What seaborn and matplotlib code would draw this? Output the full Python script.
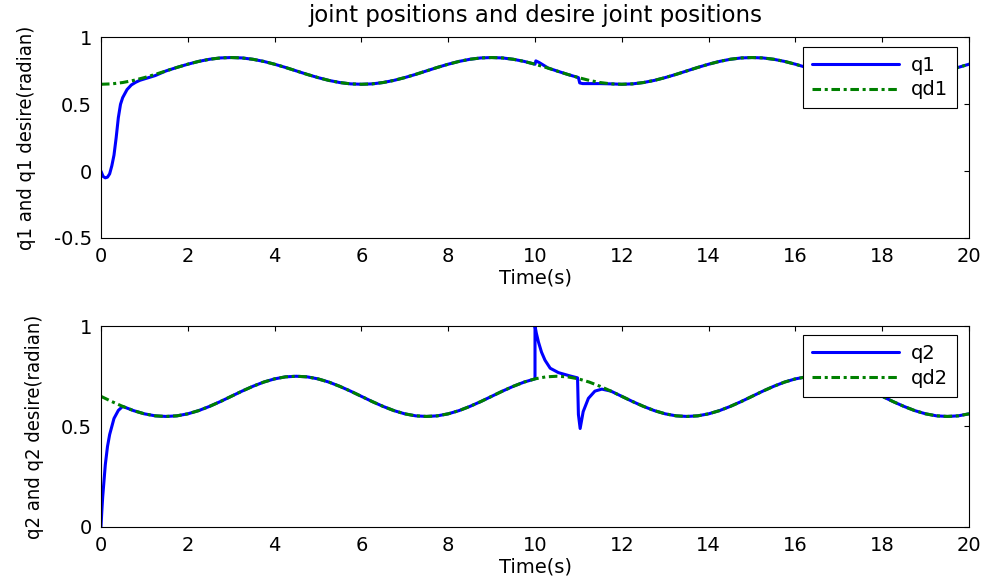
import numpy as np
import pandas as pd
import matplotlib
matplotlib.use("Agg")
import matplotlib.pyplot as plt
from matplotlib import font_manager as fm
import seaborn as sns

# ---------------- data ----------------
t_des = np.arange(0, 20.001, 0.25)

qd1 = [0.650, 0.653, 0.663, 0.679, 0.700, 0.724, 0.750, 0.776, 0.800, 0.821, 0.837, 0.847,
       0.850, 0.847, 0.837, 0.821, 0.800, 0.776, 0.750, 0.724, 0.700, 0.679, 0.663, 0.653,
       0.650, 0.653, 0.663, 0.679, 0.700, 0.724, 0.750, 0.776, 0.800, 0.821, 0.837, 0.847,
       0.850, 0.847, 0.837, 0.821, 0.800, 0.776, 0.750, 0.724, 0.700, 0.679, 0.663, 0.653,
       0.650, 0.653, 0.663, 0.679, 0.700, 0.724, 0.750, 0.776, 0.800, 0.821, 0.837, 0.847,
       0.850, 0.847, 0.837, 0.821, 0.800, 0.776, 0.750, 0.724, 0.700, 0.679, 0.663, 0.653,
       0.650, 0.653, 0.663, 0.679, 0.700, 0.724, 0.750, 0.776, 0.800]

qd2 = [0.650, 0.624, 0.600, 0.579, 0.563, 0.553, 0.550, 0.553, 0.563, 0.579, 0.600, 0.624,
       0.650, 0.676, 0.700, 0.721, 0.737, 0.747, 0.750, 0.747, 0.737, 0.721, 0.700, 0.676,
       0.650, 0.624, 0.600, 0.579, 0.563, 0.553, 0.550, 0.553, 0.563, 0.579, 0.600, 0.624,
       0.650, 0.676, 0.700, 0.721, 0.737, 0.747, 0.750, 0.747, 0.737, 0.721, 0.700, 0.676,
       0.650, 0.624, 0.600, 0.579, 0.563, 0.553, 0.550, 0.553, 0.563, 0.579, 0.600, 0.624,
       0.650, 0.676, 0.700, 0.721, 0.737, 0.747, 0.750, 0.747, 0.737, 0.721, 0.700, 0.676,
       0.650, 0.624, 0.600, 0.579, 0.563, 0.553, 0.550, 0.553, 0.563]

t_q1 = [0.0, 0.05, 0.1, 0.15, 0.2, 0.25, 0.3, 0.35, 0.4, 0.45, 0.5, 0.6, 0.7, 0.8, 0.9, 1.0, 1.25,
        1.5, 1.75, 2.0, 2.25, 2.5, 2.75, 3.0, 3.25, 3.5, 3.75, 4.0, 4.25, 4.5, 4.75, 5.0, 5.25,
        5.5, 5.75, 6.0, 6.25, 6.5, 6.75, 7.0, 7.25, 7.5, 7.75, 8.0, 8.25, 8.5, 8.75, 9.0, 9.25,
        9.5, 9.75, 10.0,
        10.02, 10.1, 10.2, 10.3, 10.5, 10.75, 11.0, 11.03, 11.1, 11.5, 11.75, 12.0,
        12.25, 12.5, 12.75, 13.0, 13.25, 13.5, 13.75, 14.0, 14.25, 14.5, 14.75, 15.0, 15.25,
        15.5, 15.75, 16.0, 16.25, 16.5, 16.75, 17.0, 17.25, 17.5, 17.75, 18.0, 18.25, 18.5,
        18.75, 19.0, 19.25, 19.5, 19.75, 20.0]
q1 = [0.0, -0.04, -0.05, -0.045, -0.02, 0.04, 0.12, 0.25, 0.40, 0.50, 0.55, 0.61, 0.645, 0.665,
      0.68, 0.69, 0.715,
      0.750, 0.776, 0.800, 0.821, 0.837, 0.847, 0.850, 0.847, 0.837, 0.821, 0.800, 0.776,
      0.750, 0.724, 0.700, 0.679, 0.663, 0.653, 0.650, 0.653, 0.663, 0.679, 0.700, 0.724,
      0.750, 0.776, 0.800, 0.821, 0.837, 0.847, 0.850, 0.847, 0.837, 0.821, 0.800,
      0.825, 0.812, 0.792, 0.772, 0.750, 0.724, 0.700, 0.660, 0.655, 0.655, 0.653, 0.650,
      0.653, 0.663, 0.679, 0.700, 0.724, 0.750, 0.776, 0.800, 0.821, 0.837, 0.847, 0.850,
      0.847, 0.837, 0.821, 0.800, 0.776, 0.750, 0.724, 0.700, 0.679, 0.663, 0.653, 0.650,
      0.653, 0.663, 0.679, 0.700, 0.724, 0.750, 0.776, 0.800]

t_q2 = [0.0, 0.02, 0.04, 0.07, 0.1, 0.15, 0.2, 0.25, 0.3, 0.4, 0.5,
        0.75, 1.0, 1.25, 1.5, 1.75, 2.0, 2.25, 2.5, 2.75, 3.0, 3.25, 3.5, 3.75, 4.0, 4.25, 4.5,
        4.75, 5.0, 5.25, 5.5, 5.75, 6.0, 6.25, 6.5, 6.75, 7.0, 7.25, 7.5, 7.75, 8.0, 8.25, 8.5,
        8.75, 9.0, 9.25, 9.5, 9.75, 10.0,
        10.0, 10.03, 10.08, 10.15, 10.23, 10.35, 10.54, 10.8, 10.98, 11.0, 11.04, 11.11, 11.23,
        11.38, 11.54, 11.75, 12.0,
        12.25, 12.5, 12.75, 13.0, 13.25, 13.5, 13.75, 14.0, 14.25, 14.5, 14.75, 15.0, 15.25,
        15.5, 15.75, 16.0, 16.25, 16.5, 16.75, 17.0, 17.25, 17.5, 17.75, 18.0, 18.25, 18.5,
        18.75, 19.0, 19.25, 19.5, 19.75, 20.0]
q2 = [0.0, 0.08, 0.15, 0.23, 0.31, 0.40, 0.46, 0.50, 0.54, 0.58, 0.60,
      0.579, 0.563, 0.553, 0.550, 0.553, 0.563, 0.579, 0.600, 0.624, 0.650, 0.676, 0.700,
      0.721, 0.737, 0.747, 0.750, 0.747, 0.737, 0.721, 0.700, 0.676, 0.650, 0.624, 0.600,
      0.579, 0.563, 0.553, 0.550, 0.553, 0.563, 0.579, 0.600, 0.624, 0.650, 0.676, 0.700,
      0.721, 0.737,
      1.0, 0.965, 0.92, 0.87, 0.83, 0.79, 0.768, 0.752, 0.742, 0.56, 0.49, 0.574, 0.64,
      0.676, 0.686, 0.676, 0.650,
      0.624, 0.600, 0.579, 0.563, 0.553, 0.550, 0.553, 0.563, 0.579, 0.600, 0.624, 0.650,
      0.676, 0.700, 0.721, 0.737, 0.747, 0.750, 0.747, 0.737, 0.721, 0.700, 0.676, 0.650,
      0.624, 0.600, 0.579, 0.563, 0.553, 0.550, 0.553, 0.563]

x_ticks = [0, 2, 4, 6, 8, 10, 12, 14, 16, 18, 20]
x_ticklabels = ["0", "2", "4", "6", "8", "10", "12", "14", "16", "18", "20"]
y1_ticks = [-0.5, 0, 0.5, 1]
y1_ticklabels = ["-0.5", "0", "0.5", "1"]
y2_ticks = [0, 0.5, 1]
y2_ticklabels = ["0", "0.5", "1"]

title_text = "joint positions and desire joint positions"
xlabel_text = "Time(s)"
ylabel1_text = "q1 and q1 desire(radian)"
ylabel2_text = "q2 and q2 desire(radian)"

# ---------------- style ----------------
sns.set_style("white")
plt.rcParams["font.family"] = ["DejaVu Sans"]
plt.rcParams["axes.edgecolor"] = "black"
plt.rcParams["axes.linewidth"] = 0.8
plt.rcParams["text.color"] = "black"
plt.rcParams["axes.labelcolor"] = "black"
plt.rcParams["legend.labelcolor"] = "black"

fonts = fm.fontManager.ttflist
names = {f.name for f in fonts}
if "Liberation Sans Narrow" in names:
    ylab_font = dict(family=["Liberation Sans Narrow", "DejaVu Sans"], size=16)
elif any(f.name == "DejaVu Sans" and f.stretch == "condensed" for f in fonts):
    ylab_font = dict(family=["DejaVu Sans"], stretch="condensed", size=14.5)
else:
    ylab_font = dict(family=["DejaVu Sans"], size=13.5)

BLUE = "#0000FF"
GREEN = "#008000"
DASHDOT = (0, (2.8, 1.2, 1.0, 1.2))

fig = plt.figure(figsize=(9.87, 5.83), dpi=100)
ax1 = fig.add_axes([0.1023, 0.5918, 0.8795, 0.3439])
ax2 = fig.add_axes([0.1023, 0.0961, 0.8795, 0.3447])

def draw(ax, t_q, q, qd, lab_q, lab_qd, yticks, yticklabels, ylim, ylabel):
    sns.lineplot(x=t_q, y=q, ax=ax, color=BLUE, lw=2.2, label=lab_q,
                 estimator=None, sort=False, legend=False)
    sns.lineplot(x=t_des, y=qd, ax=ax, color=GREEN, lw=2.2, label=lab_qd,
                 estimator=None, sort=False, legend=False, linestyle=DASHDOT)
    ax.set_xlim(0, 20)
    ax.set_ylim(*ylim)
    ax.set_xticks(x_ticks)
    ax.set_xticklabels(x_ticklabels)
    ax.set_yticks(yticks)
    ax.set_yticklabels(yticklabels)
    ax.tick_params(axis="both", direction="in", top=True, right=True, length=3.6,
                   width=0.8, labelsize=14, colors="black")
    ax.tick_params(axis="x", pad=6.8)
    ax.tick_params(axis="y", pad=6.5)
    for s in ax.spines.values():
        s.set_visible(True)
        s.set_color("black")
        s.set_linewidth(0.8)
    ax.set_xlabel(xlabel_text, fontsize=14, labelpad=1.5, color="black")
    ax.set_ylabel(ylabel, labelpad=12.5, color="black", **ylab_font)
    leg = ax.legend(loc="upper right", bbox_to_anchor=(0.986, 0.953), borderaxespad=0,
                    frameon=True, fancybox=False, shadow=False, framealpha=1,
                    edgecolor="black", fontsize=14, handlelength=4.5, handletextpad=0.6,
                    borderpad=0.45, labelspacing=0.3, labelcolor="black")
    leg.get_frame().set_linewidth(0.8)

draw(ax1, t_q1, q1, qd1, "q1", "qd1", y1_ticks, y1_ticklabels, (-0.5, 1), ylabel1_text)
draw(ax2, t_q2, q2, qd2, "q2", "qd2", y2_ticks, y2_ticklabels, (0, 1), ylabel2_text)
ax1.set_title(title_text, fontsize=16.5, pad=11, color="black")

fig.savefig("out.png", dpi=100, facecolor="white")
